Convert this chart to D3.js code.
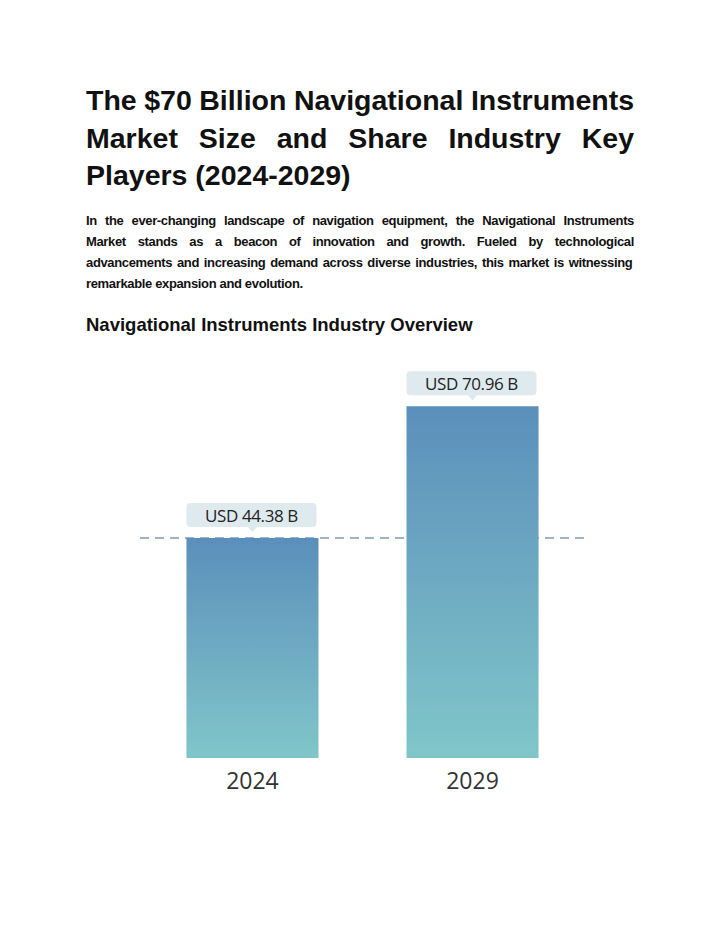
<!DOCTYPE html>
<html><head><meta charset="utf-8">
<script src="https://cdn.jsdelivr.net/npm/d3@7"></script>
<style>body{margin:0;background:#fff}</style></head>
<body><script>
const years = ["2024", "2029"];
const values = [44.38, 70.96];
const valueLabels = ["USD 44.38 B", "USD 70.96 B"];
const titleLines = ["The $70 Billion Navigational Instruments", "Market Size and Share Industry Key", "Players (2024-2029)"];
const paraLines = ["In the ever-changing landscape of navigation equipment, the Navigational Instruments",
  "Market stands as a beacon of innovation and growth. Fueled by technological",
  "advancements and increasing demand across diverse industries, this market is  witnessing",
  "remarkable expansion and evolution."];
const subtitle = "Navigational Instruments Industry Overview";

const svg = d3.select("body").append("svg").attr("width", 720).attr("height", 931);
const defs = svg.append("defs");
const g = defs.append("linearGradient").attr("id", "bg").attr("x1", 0).attr("y1", 0).attr("x2", 0).attr("y2", 1);
g.append("stop").attr("offset", 0).attr("stop-color", "#5b8fbb");
g.append("stop").attr("offset", 1).attr("stop-color", "#80c6c9");

function justify(e, width) {
  const t = e.text();
  const gaps = (t.match(/ /g) || []).length;
  const w = e.node().getComputedTextLength();
  if (gaps) e.attr("word-spacing", (width - w) / gaps);
}
titleLines.forEach((t, i) => {
  const e = svg.append("text").attr("x", 86).attr("y", 110 + i * 37.5)
    .attr("font-family", "Liberation Sans, Arial").attr("font-weight", "bold").attr("font-size", 28.5)
    .attr("fill", "#111").text(t);
  if (i < 2) justify(e, 548);
});
paraLines.forEach((t, i) => {
  const e = svg.append("text").attr("x", 86).attr("y", 225 + i * 21)
    .attr("font-family", "Liberation Sans Narrow, Liberation Sans, Arial").attr("font-weight", "bold").attr("font-size", 13)
    .attr("letter-spacing", -0.35).attr("fill", "#111").text(t);
  if (i < 3) justify(e, 548);
});
svg.append("text").attr("x", 86).attr("y", 331).attr("font-family", "Liberation Sans, Arial")
  .attr("font-weight", "bold").attr("font-size", 18.5).attr("fill", "#111").text(subtitle);

const x = d3.scaleBand().domain(years).range([120, 605]).paddingInner(0.4).paddingOuter(0.302);
const y = d3.scaleLinear().domain([0, 44.38]).range([758, 538]);

svg.append("line").attr("x1", 140).attr("x2", 586).attr("y1", y(values[0])).attr("y2", y(values[0]))
  .attr("stroke", "#7f9cb3").attr("stroke-width", 1.6).attr("stroke-dasharray", "9,6");

years.forEach((yr, i) => {
  const bx = x(yr), bw = x.bandwidth(), top = y(values[i]);
  svg.append("rect").attr("x", bx).attr("y", top).attr("width", bw).attr("height", y(0) - top).attr("fill", "url(#bg)");
  const cx = bx + bw / 2;
  svg.append("rect").attr("x", bx).attr("y", top - 35).attr("width", bw - 2).attr("height", 24).attr("rx", 4)
    .attr("fill", "#dfeaee");
  svg.append("path").attr("d", `M${cx - 5},${top - 11.5}L${cx},${top - 6}L${cx + 5},${top - 11.5}Z`).attr("fill", "#dfeaee");
  svg.append("text").attr("x", cx - 1).attr("y", top - 16.5).attr("text-anchor", "middle")
    .attr("font-family", "Open Sans, Lato, sans-serif").attr("font-size", 17).attr("fill", "#222")
    .attr("letter-spacing", -0.4).text(valueLabels[i]);
  svg.append("text").attr("x", cx).attr("y", 789).attr("text-anchor", "middle")
    .attr("font-family", "Open Sans, Lato, sans-serif").attr("font-size", 23).attr("fill", "#333").text(yr);
});
</script></body></html>
